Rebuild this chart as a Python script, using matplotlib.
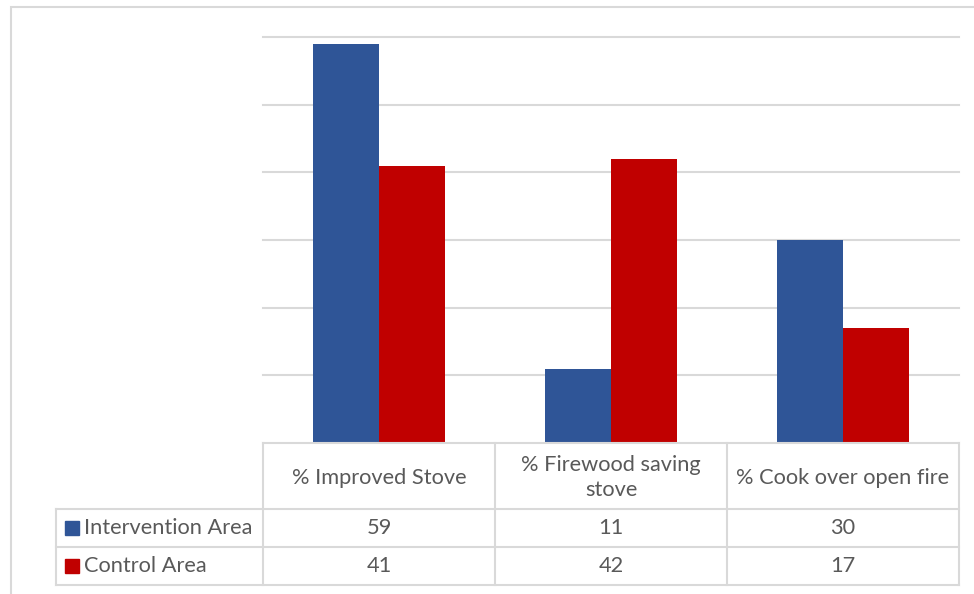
import matplotlib
matplotlib.use("Agg")
import matplotlib.pyplot as plt
from matplotlib.patches import Rectangle
from matplotlib.lines import Line2D

categories = ["% Improved Stove", "% Firewood saving\nstove", "% Cook over open fire"]
series_names = ["Intervention Area", "Control Area"]
intervention = [59, 11, 30]
control = [41, 42, 17]
colors = ["#2F5597", "#C00000"]
grid_color = "#D9D9D9"
text_color = "#595959"

W, H = 974, 594
fig = plt.figure(figsize=(W / 100, H / 100), dpi=100)
plt.rcParams["font.family"] = ["Lato", "DejaVu Sans"]


def fx(px):
    return px / W


def fy(py):
    return 1 - py / H


# chart-area border
fig.add_artist(Rectangle((fx(11), fy(600)), fx(1000) - fx(11), fy(7) - fy(600),
                         transform=fig.transFigure, fill=False,
                         edgecolor=grid_color, linewidth=1.5))

# plot area
left, right, bottom, top = 263, 959, 443, 37
ax = fig.add_axes([fx(left), fy(bottom), fx(right) - fx(left), fy(top) - fy(bottom)])
ax.set_xlim(-0.5, len(categories) - 0.5)
ax.set_ylim(0, 60)
for v in range(10, 61, 10):
    ax.axhline(v, color=grid_color, linewidth=1.5, zorder=0, clip_on=False)
bw = 0.285
xs = range(len(categories))
ax.bar([x - bw / 2 for x in xs], intervention, width=bw, color=colors[0], zorder=2)
ax.bar([x + bw / 2 for x in xs], control, width=bw, color=colors[1], zorder=2)
for s in ax.spines.values():
    s.set_visible(False)
ax.set_xticks([])
ax.set_yticks([])
ax.patch.set_alpha(0)

# data table
col_edges = [263, 495, 727, 959]
row_edges = [443, 509, 547, 585]
leg_left = 56
lw = 1.5


def hline(y, x0, x1):
    fig.add_artist(Line2D([fx(x0), fx(x1)], [fy(y), fy(y)], transform=fig.transFigure,
                          color=grid_color, linewidth=lw))


def vline(x, y0, y1):
    fig.add_artist(Line2D([fx(x), fx(x)], [fy(y0), fy(y1)], transform=fig.transFigure,
                          color=grid_color, linewidth=lw))


hline(row_edges[0], col_edges[0], col_edges[-1])
for y in row_edges[1:]:
    hline(y, leg_left, col_edges[-1])
for x in col_edges:
    vline(x, row_edges[0], row_edges[-1])
vline(leg_left, row_edges[1], row_edges[-1])

fs = 15.7
for i, cat in enumerate(categories):
    cx = (col_edges[i] + col_edges[i + 1]) / 2
    cy = (row_edges[0] + row_edges[1]) / 2 + 1.5
    fig.text(fx(cx), fy(cy), cat, ha="center", va="center", fontsize=fs,
             color=text_color, linespacing=1.32)

for r, (name, vals) in enumerate(zip(series_names, [intervention, control])):
    cy = (row_edges[r + 1] + row_edges[r + 2]) / 2
    fig.add_artist(Rectangle((fx(65), fy(cy + 7)), fx(14), fy(0) - fy(14),
                             transform=fig.transFigure, color=colors[r]))
    fig.text(fx(84), fy(cy), name, ha="left", va="center", fontsize=fs, color=text_color)
    for i, v in enumerate(vals):
        cx = (col_edges[i] + col_edges[i + 1]) / 2
        fig.text(fx(cx), fy(cy), str(v), ha="center", va="center", fontsize=fs,
                 color=text_color)

fig.savefig("out.png", dpi=100, facecolor="white")
